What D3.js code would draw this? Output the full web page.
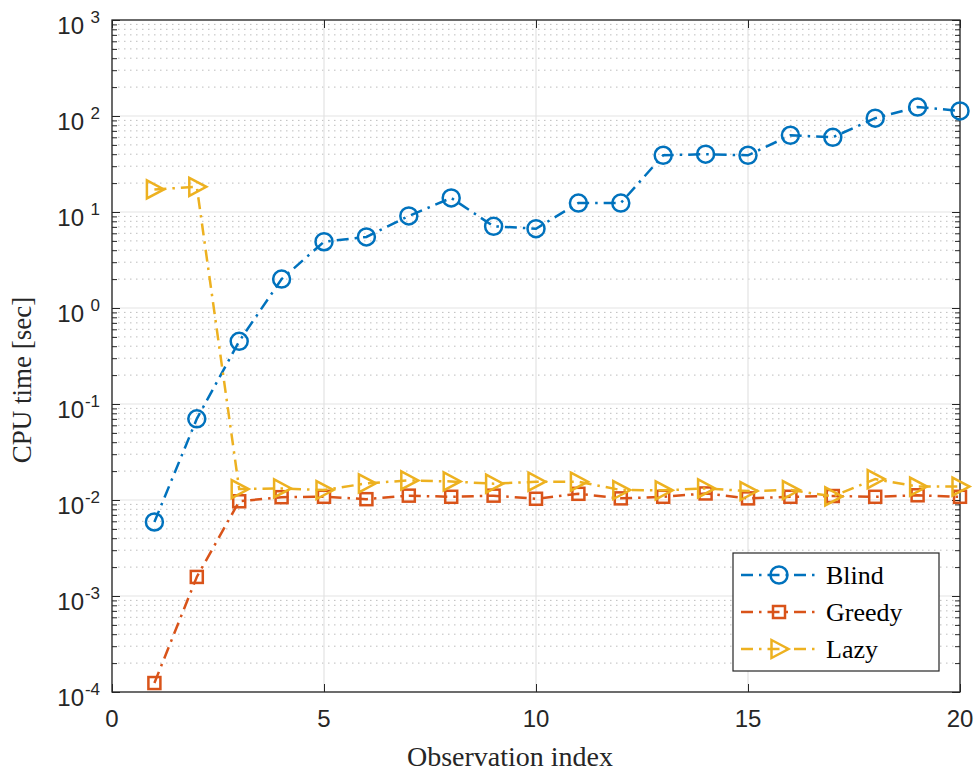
<!doctype html>
<html lang="en">
<head>
<meta charset="utf-8">
<title>CPU time</title>
<style>
    body { margin: 0; background: #fff; }
    #plot { display: block; }
    .tick-label { font-family: "Liberation Sans", Arial, sans-serif; fill: #262626; }
    .axis-title { font-family: "Liberation Serif", "Times New Roman", serif; fill: #262626; }
    .legend-text { font-family: "Liberation Serif", "Times New Roman", serif; fill: #000; }
    .series { fill: none; stroke-width: 2.5px; stroke-dasharray: 12 6 2.5 6; }
    .marker { fill: none; stroke-width: 2.5px; }
</style>
</head>
<body>
<svg id="plot" width="974" height="771"></svg>

<script src="https://d3js.org/d3.v7.min.js"></script>
<script>
// observation indices
const obs = [1, 2, 3, 4, 5, 6, 7, 8, 9, 10, 11, 12, 13, 14, 15, 16, 17, 18, 19, 20];

// CPU time [sec] per method
const blind = [0.0059, 0.070, 0.45, 2.0, 4.9, 5.5, 9.1, 14, 7.1, 6.7,
               12.4, 12.4, 39, 40, 39, 63, 60, 95, 124, 113];
const greedy = [0.000124, 0.00158, 0.0097, 0.0107, 0.0108, 0.0102, 0.0111, 0.0108, 0.0111, 0.0103,
                0.0116, 0.0104, 0.0108, 0.0117, 0.0104, 0.0108, 0.0110, 0.0108, 0.0112, 0.0108];
const lazy = [17.2, 18.3, 0.0130, 0.0132, 0.0127, 0.0149, 0.0160, 0.0156, 0.0148, 0.0155,
              0.0155, 0.0127, 0.0126, 0.0132, 0.0124, 0.0127, 0.0109, 0.0165, 0.0138, 0.0138];

const seriesNames = ["Blind", "Greedy", "Lazy"];
const seriesColors = ["#0072BD", "#D95319", "#EDB120"];
const seriesMarkers = ["circle", "square", "triangle"];

const xTicks = [0, 5, 10, 15, 20];
const yExponents = [-4, -3, -2, -1, 0, 1, 2, 3];

const xLabel = "Observation index";
const yLabel = "CPU time [sec]";

let svg = d3.select("svg"),
    margin = {top: 20, right: 14, bottom: 79, left: 112},
    width = +svg.attr("width") - margin.left - margin.right,
    height = +svg.attr("height") - margin.top - margin.bottom,
    g = svg.append("g").attr("transform", "translate(" + margin.left + "," + margin.top + ")");

let x = d3.scaleLinear().domain([0, 20]).range([0, width]);
let y = d3.scaleLog().domain([1e-4, 1e3]).range([height, 0]);

const majorY = yExponents.map(function(e) { return Math.pow(10, e); });
let minorY = [];
for (const e of yExponents.slice(0, -1)) {
    for (let k = 2; k <= 9; k++) minorY.push(k * Math.pow(10, e));
}

// grid
g.append("g").selectAll("line.minor")
    .data(minorY).enter().append("line")
    .attr("x1", 0).attr("x2", width)
    .attr("y1", d => y(d)).attr("y2", d => y(d))
    .attr("stroke", "#bdbdbd").attr("stroke-width", 1)
    .attr("stroke-dasharray", "1.5 4.5");

g.append("g").selectAll("line.major")
    .data(majorY).enter().append("line")
    .attr("x1", 0).attr("x2", width)
    .attr("y1", d => y(d)).attr("y2", d => y(d))
    .attr("stroke", "#e3e3e3").attr("stroke-width", 1.2);

g.append("g").selectAll("line.vgrid")
    .data(xTicks).enter().append("line")
    .attr("x1", d => x(d)).attr("x2", d => x(d))
    .attr("y1", 0).attr("y2", height)
    .attr("stroke", "#e3e3e3").attr("stroke-width", 1.2);

// axes with inward ticks, labels drawn separately
function styleAxis(sel) {
    sel.selectAll("text").remove();
    sel.select(".domain").remove();
    sel.selectAll("line").attr("stroke", "#262626");
}
g.append("g").attr("transform", "translate(0," + height + ")")
    .call(d3.axisBottom(x).tickValues(xTicks).tickSize(-8).tickSizeOuter(0)).call(styleAxis);
g.append("g")
    .call(d3.axisTop(x).tickValues(xTicks).tickSize(-8).tickSizeOuter(0)).call(styleAxis);
g.append("g")
    .call(d3.axisLeft(y).tickValues(majorY).tickSize(-8).tickSizeOuter(0)).call(styleAxis);
g.append("g")
    .call(d3.axisLeft(y).tickValues(minorY).tickSize(-5).tickSizeOuter(0)).call(styleAxis);
g.append("g").attr("transform", "translate(" + width + ",0)")
    .call(d3.axisRight(y).tickValues(majorY).tickSize(-8).tickSizeOuter(0)).call(styleAxis);
g.append("g").attr("transform", "translate(" + width + ",0)")
    .call(d3.axisRight(y).tickValues(minorY).tickSize(-5).tickSizeOuter(0)).call(styleAxis);

g.append("rect")
    .attr("width", width).attr("height", height)
    .attr("fill", "none").attr("stroke", "#262626").attr("stroke-width", 1.3);

// tick labels
g.append("g").selectAll("text")
    .data(xTicks).enter().append("text")
    .attr("class", "tick-label")
    .attr("x", d => x(d)).attr("y", height + 35)
    .attr("text-anchor", "middle")
    .style("font-size", "24px")
    .text(d => d);

let yl = g.append("g").selectAll("g")
    .data(yExponents).enter().append("g")
    .attr("transform", d => "translate(0," + y(Math.pow(10, d)) + ")");
yl.append("text")
    .attr("class", "tick-label")
    .attr("x", -28).attr("y", 14)
    .attr("text-anchor", "end")
    .style("font-size", "24px")
    .text("10");
yl.append("text")
    .attr("class", "tick-label")
    .attr("x", -12).attr("y", 3)
    .attr("text-anchor", "end")
    .style("font-size", "17px")
    .text(d => d);

// axis titles
svg.append("text")
    .attr("class", "axis-title")
    .attr("x", 510).attr("y", 766)
    .attr("text-anchor", "middle")
    .style("font-size", "28px")
    .text(xLabel);
svg.append("text")
    .attr("class", "axis-title")
    .attr("transform", "translate(31,380) rotate(-90)")
    .attr("text-anchor", "middle")
    .style("font-size", "27px")
    .text(yLabel);

// markers
function drawMarker(sel, type, color) {
    if (type === "circle") {
        sel.append("circle").attr("r", 8.5);
    } else if (type === "square") {
        sel.append("rect").attr("x", -6).attr("y", -6).attr("width", 12).attr("height", 12);
    } else {
        sel.append("path").attr("d", "M-7.5,-9L9.5,0L-7.5,9Z");
    }
    sel.selectAll("circle,rect,path").attr("class", "marker").attr("stroke", color);
}

let line = d3.line()
    .x(d => x(d[0]))
    .y(d => y(d[1]));

const allSeries = [blind, greedy, lazy];
allSeries.forEach(function(vals, i) {
    const pts = obs.map((o, j) => [o, vals[j]]);
    g.append("path")
        .datum(pts)
        .attr("class", "series")
        .attr("stroke", seriesColors[i])
        .attr("d", line);
    g.append("g").selectAll("g")
        .data(pts).enter().append("g")
        .attr("transform", d => "translate(" + x(d[0]) + "," + y(d[1]) + ")")
        .each(function() { drawMarker(d3.select(this), seriesMarkers[i], seriesColors[i]); });
});

// legend
let legend = svg.append("g").attr("transform", "translate(733,553)");
legend.append("rect")
    .attr("width", 206).attr("height", 118)
    .attr("fill", "#fff").attr("stroke", "#262626").attr("stroke-width", 1.2);
seriesNames.forEach(function(name, i) {
    let row = legend.append("g").attr("transform", "translate(0," + (22 + i * 37) + ")");
    row.append("line")
        .attr("x1", 8).attr("x2", 84).attr("y1", 0).attr("y2", 0)
        .attr("class", "series")
        .attr("stroke", seriesColors[i]);
    let m = row.append("g").attr("transform", "translate(46,0)");
    drawMarker(m, seriesMarkers[i], seriesColors[i]);
    row.append("text")
        .attr("class", "legend-text")
        .attr("x", 93).attr("y", 9)
        .style("font-size", "26px")
        .text(name);
});
</script>
</body>
</html>
